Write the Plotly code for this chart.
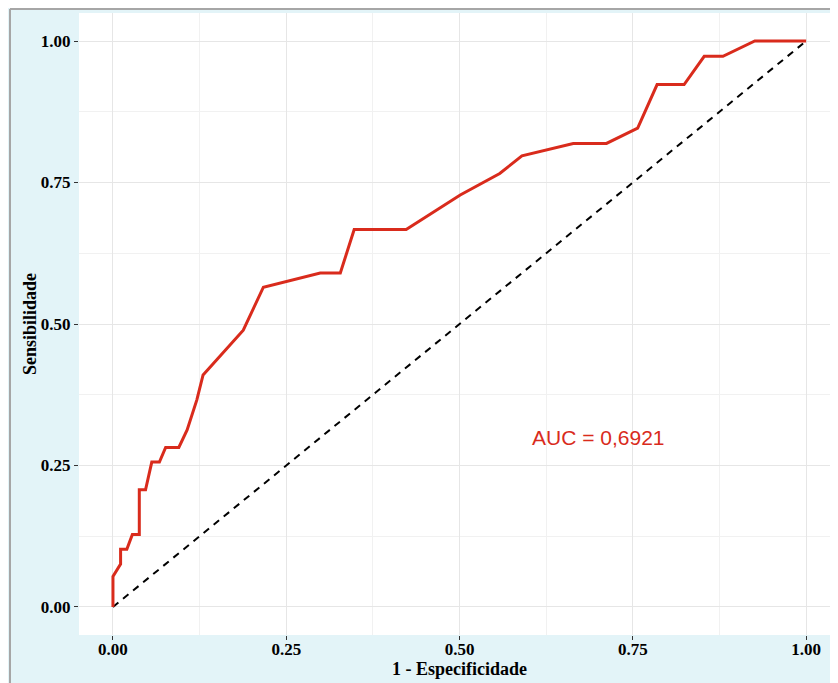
import plotly.graph_objects as go

# ROC curve points (1 - specificity, sensitivity)
fpr = [0.000, 0.000, 0.011, 0.011, 0.020, 0.028, 0.038, 0.038, 0.047, 0.056,
       0.067, 0.076, 0.095, 0.107, 0.121, 0.130, 0.188, 0.217, 0.299, 0.328,
       0.348, 0.423, 0.501, 0.558, 0.590, 0.664, 0.712, 0.757, 0.785, 0.824,
       0.853, 0.880, 0.926, 1.000]
tpr = [0.000, 0.054, 0.076, 0.102, 0.102, 0.128, 0.128, 0.207, 0.207, 0.256,
       0.256, 0.282, 0.282, 0.313, 0.366, 0.410, 0.489, 0.565, 0.590, 0.590,
       0.667, 0.667, 0.728, 0.766, 0.797, 0.819, 0.819, 0.846, 0.923, 0.923,
       0.973, 0.973, 1.000, 1.000]
diag_x = [0, 1]
diag_y = [0, 1]
tick_vals = [0, 0.25, 0.5, 0.75, 1.0]
tick_text = ["0.00", "0.25", "0.50", "0.75", "1.00"]
auc_text = "AUC = 0,6921"

OFF = 8  # default page body margin
W, H = 838 - OFF, 683 - OFF
L, T, B, R = 79 - OFF, 13 - OFF, 48, 0
pw, ph = W - L - R, H - T - B

def px2paper_x(p):
    return (p - OFF - L) / pw

def px2paper_y(p):
    return (H - B - (p - OFF)) / ph

fig = go.Figure()
fig.add_trace(go.Scatter(x=diag_x, y=diag_y, mode="lines",
                         line=dict(color="black", width=2, dash="7px,6px"),
                         hoverinfo="skip", showlegend=False))
fig.add_trace(go.Scatter(x=fpr, y=tpr, mode="lines",
                         line=dict(color="#d92b1c", width=3),
                         showlegend=False))

tickfont = dict(family="Liberation Serif", size=17, color="black", weight="bold")
axis_common = dict(
    tickvals=tick_vals, ticktext=tick_text, ticks="outside", ticklen=4,
    tickwidth=1, tickcolor="#333333", tickfont=tickfont,
    showgrid=True, gridcolor="#e6e6e6", gridwidth=1, zeroline=False,
    showline=False,
    minor=dict(tickvals=[0.125, 0.375, 0.625, 0.875], showgrid=True,
               gridcolor="#f1f1f1", gridwidth=1, ticks=""),
)

fig.update_xaxes(range=[-0.049, 1.046], ticklabelstandoff=-5, **axis_common)
fig.update_yaxes(range=[-0.0495, 1.0495], **axis_common)

fig.add_annotation(x=0.70, y=0.30, text=auc_text, showarrow=False,
                   xanchor="center", yanchor="middle",
                   font=dict(family="Liberation Sans", size=21, color="#d92b1c"),
                   xref="x", yref="y")
fig.add_annotation(x=px2paper_x(459.5), y=px2paper_y(669), xref="paper", yref="paper",
                   xanchor="center", yanchor="middle",
                   text="<b>1 - Especificidade</b>", showarrow=False,
                   font=dict(family="Liberation Serif", size=18, color="black"))
fig.add_annotation(x=px2paper_x(30), y=px2paper_y(324), xref="paper", yref="paper",
                   xanchor="center", yanchor="middle",
                   text="<b>Sensibilidade</b>", showarrow=False, textangle=-90,
                   font=dict(family="Liberation Serif", size=18, color="black"))

# gray frame lines at top and left
fig.add_shape(type="line", xref="paper", yref="paper",
              x0=px2paper_x(10), x1=px2paper_x(838), y0=px2paper_y(9), y1=px2paper_y(9),
              line=dict(color="#a6a6a6", width=2))
fig.add_shape(type="line", xref="paper", yref="paper",
              x0=px2paper_x(10), x1=px2paper_x(10), y0=px2paper_y(9), y1=px2paper_y(683),
              line=dict(color="#a6a6a6", width=2))

fig.update_layout(
    width=W, height=H,
    margin=dict(l=L, r=R, t=T, b=B, pad=0),
    paper_bgcolor="#e3f4f8", plot_bgcolor="white",
    font=dict(family="Liberation Serif", color="black"),
)

fig.write_html("out.html")
